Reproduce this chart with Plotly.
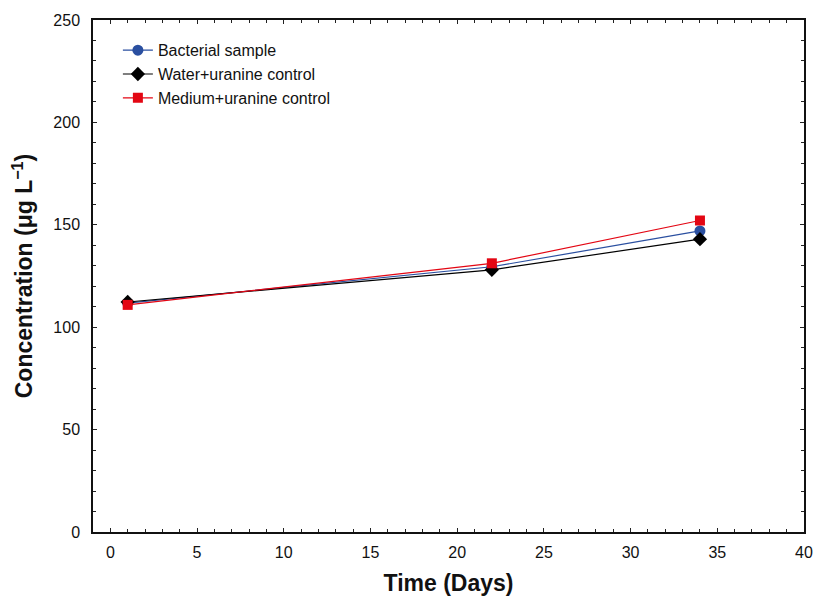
import plotly.graph_objects as go

days = [1, 22, 34]
bacterial = [111.8, 129.5, 147.0]
water = [112.3, 128.0, 143.0]
medium = [110.9, 131.2, 152.1]

series = [
    ("Bacterial sample", bacterial, "#2a4fa0", "circle", 11),
    ("Water+uranine control", water, "#000000", "diamond", 11),
    ("Medium+uranine control", medium, "#e30613", "square", 10),
]

fig = go.Figure()
for name, vals, color, sym, size in series:
    fig.add_trace(go.Scatter(
        x=days, y=vals, name=name, mode="lines+markers",
        line=dict(color=color, width=1.2),
        marker=dict(symbol=sym, size=size, color=color, line=dict(width=0)),
    ))

font = "Liberation Sans, Arial, sans-serif"
fig.update_layout(
    width=814, height=601,
    margin=dict(l=93, r=10, t=20, b=69, autoexpand=False),
    paper_bgcolor="white", plot_bgcolor="white",
    font=dict(family=font, size=16, color="#111"),
    showlegend=True,
    legend=dict(x=0.035, y=0.974, xanchor="left", yanchor="top",
                bgcolor="rgba(0,0,0,0)", font=dict(size=16, family=font, color="#111"),
                tracegroupgap=0, itemwidth=30),
    xaxis=dict(
        range=[-1, 40], tickmode="linear", tick0=0, dtick=5, automargin=False,
        ticks="inside", ticklen=4, tickwidth=1, tickcolor="#222",
        minor=dict(dtick=1, tick0=0, ticks="inside", ticklen=3, tickcolor="#222", showgrid=False),
        showline=True, linecolor="#111", linewidth=1.5, mirror="ticks",
        showgrid=False, zeroline=False, ticklabelstandoff=5,
        tickfont=dict(size=16, family=font, color="#111"),
        title=dict(text="<b>Time (Days)</b>", font=dict(size=23, family=font, color="#111"), standoff=15),
    ),
    yaxis=dict(
        range=[0, 250], tickmode="linear", tick0=0, dtick=50, automargin=False,
        ticks="inside", ticklen=4, tickwidth=1, tickcolor="#222",
        minor=dict(dtick=10, tick0=0, ticks="inside", ticklen=3, tickcolor="#222", showgrid=False),
        showline=True, linecolor="#111", linewidth=1.5, mirror="ticks",
        showgrid=False, zeroline=False, ticklabelstandoff=8,
        tickfont=dict(size=16, family=font, color="#111"),
        title=dict(text="<b>Concentration (μg L<sup>−1</sup>)</b>", font=dict(size=23, family=font, color="#111"), standoff=14),
    ),
)

fig.write_html("out.html")
